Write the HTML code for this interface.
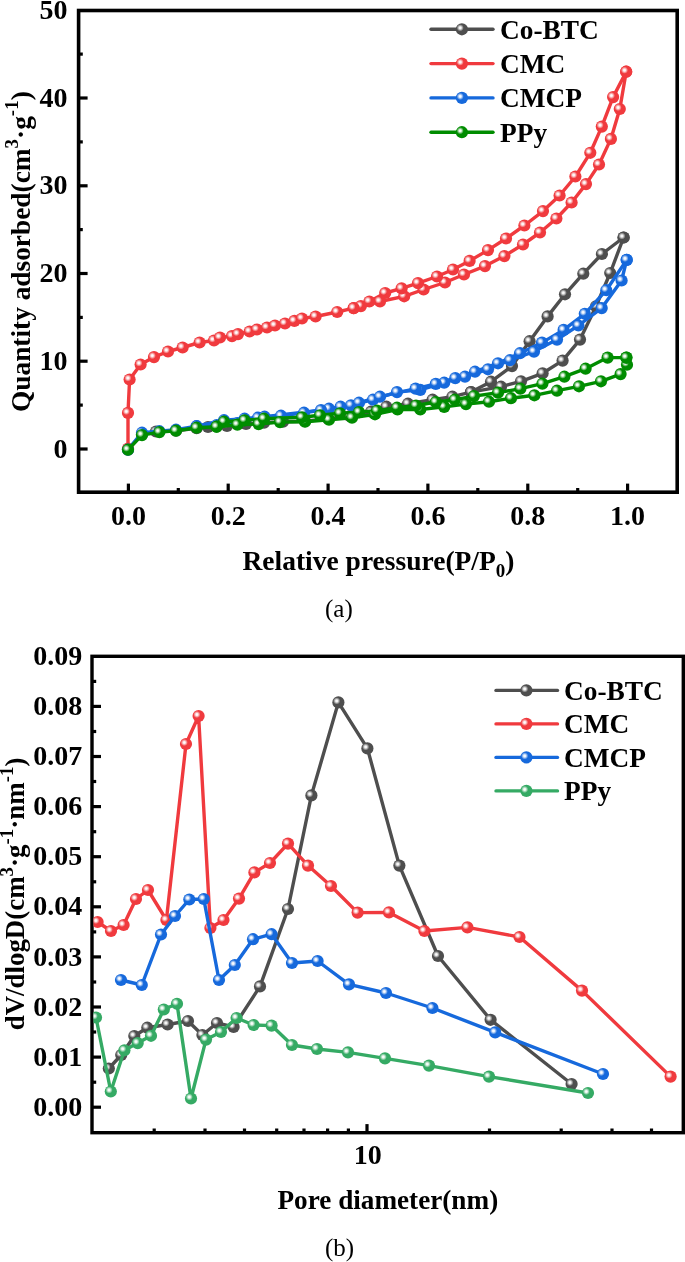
<!DOCTYPE html><html><head><meta charset="utf-8"><style>
html,body{margin:0;padding:0;background:#fff;}
svg{display:block;}
text{font-family:"Liberation Serif",serif;}
.b{font-weight:bold;}
</style></head><body>
<svg style="will-change:transform" width="685" height="1262" viewBox="0 0 685 1262">
<defs>
<radialGradient id="hl" cx="0.5" cy="0.5" r="0.5">
<stop offset="0" stop-color="#fff" stop-opacity="1"/>
<stop offset="0.3" stop-color="#fff" stop-opacity="0.92"/>
<stop offset="1" stop-color="#fff" stop-opacity="0"/>
</radialGradient>
<clipPath id="ca"><rect x="80" y="12" width="596" height="479"/></clipPath>
<clipPath id="cb"><rect x="93.5" y="658" width="588" height="473"/></clipPath>
<clipPath id="none"><rect x="0" y="0" width="685" height="1262"/></clipPath>

<g id="mK"><circle r="6.1" fill="#4E4E4E"/><circle cx="-1.7" cy="-1.5" r="3.6" fill="url(#hl)"/></g><g id="mR"><circle r="6.1" fill="#F03A3E"/><circle cx="-1.7" cy="-1.5" r="3.6" fill="url(#hl)"/></g><g id="mB"><circle r="6.1" fill="#1669DC"/><circle cx="-1.7" cy="-1.5" r="3.6" fill="url(#hl)"/></g><g id="mG"><circle r="6.1" fill="#008C00"/><circle cx="-1.7" cy="-1.5" r="3.6" fill="url(#hl)"/></g><g id="mG2"><circle r="6.1" fill="#35AA64"/><circle cx="-1.7" cy="-1.5" r="3.6" fill="url(#hl)"/></g>
</defs><rect width="685" height="1262" fill="#fff"/>
<rect x="78.6" y="10.5" width="598.6" height="481.7" fill="none" stroke="#000" stroke-width="3.6"/><line x1="78.6" y1="449.0" x2="87.6" y2="449.0" stroke="#000" stroke-width="3.2"/><text class="b" x="67.6" y="457.6" font-size="28" text-anchor="end">0</text><line x1="78.6" y1="361.2" x2="87.6" y2="361.2" stroke="#000" stroke-width="3.2"/><text class="b" x="67.6" y="369.9" font-size="28" text-anchor="end">10</text><line x1="78.6" y1="273.5" x2="87.6" y2="273.5" stroke="#000" stroke-width="3.2"/><text class="b" x="67.6" y="282.1" font-size="28" text-anchor="end">20</text><line x1="78.6" y1="185.8" x2="87.6" y2="185.8" stroke="#000" stroke-width="3.2"/><text class="b" x="67.6" y="194.3" font-size="28" text-anchor="end">30</text><line x1="78.6" y1="98.0" x2="87.6" y2="98.0" stroke="#000" stroke-width="3.2"/><text class="b" x="67.6" y="106.6" font-size="28" text-anchor="end">40</text><text class="b" x="67.6" y="18.9" font-size="28" text-anchor="end">50</text><line x1="78.6" y1="405.1" x2="82.8" y2="405.1" stroke="#000" stroke-width="3.2"/><line x1="78.6" y1="317.4" x2="82.8" y2="317.4" stroke="#000" stroke-width="3.2"/><line x1="78.6" y1="229.6" x2="82.8" y2="229.6" stroke="#000" stroke-width="3.2"/><line x1="78.6" y1="141.9" x2="82.8" y2="141.9" stroke="#000" stroke-width="3.2"/><line x1="78.6" y1="54.1" x2="82.8" y2="54.1" stroke="#000" stroke-width="3.2"/><line x1="128.4" y1="492.2" x2="128.4" y2="483.6" stroke="#000" stroke-width="3.2"/><text class="b" x="128.4" y="525.3" font-size="28" text-anchor="middle">0.0</text><line x1="178.3" y1="492.2" x2="178.3" y2="488.0" stroke="#000" stroke-width="3.2"/><line x1="228.2" y1="492.2" x2="228.2" y2="483.6" stroke="#000" stroke-width="3.2"/><text class="b" x="228.2" y="525.3" font-size="28" text-anchor="middle">0.2</text><line x1="278.2" y1="492.2" x2="278.2" y2="488.0" stroke="#000" stroke-width="3.2"/><line x1="328.1" y1="492.2" x2="328.1" y2="483.6" stroke="#000" stroke-width="3.2"/><text class="b" x="328.1" y="525.3" font-size="28" text-anchor="middle">0.4</text><line x1="378.0" y1="492.2" x2="378.0" y2="488.0" stroke="#000" stroke-width="3.2"/><line x1="427.9" y1="492.2" x2="427.9" y2="483.6" stroke="#000" stroke-width="3.2"/><text class="b" x="427.9" y="525.3" font-size="28" text-anchor="middle">0.6</text><line x1="477.8" y1="492.2" x2="477.8" y2="488.0" stroke="#000" stroke-width="3.2"/><line x1="527.8" y1="492.2" x2="527.8" y2="483.6" stroke="#000" stroke-width="3.2"/><text class="b" x="527.8" y="525.3" font-size="28" text-anchor="middle">0.8</text><line x1="577.7" y1="492.2" x2="577.7" y2="488.0" stroke="#000" stroke-width="3.2"/><line x1="627.6" y1="492.2" x2="627.6" y2="483.6" stroke="#000" stroke-width="3.2"/><text class="b" x="627.6" y="525.3" font-size="28" text-anchor="middle">1.0</text>
<g clip-path="url(#ca)"><polyline points="128.0,449.7 142.0,434.2 156.0,431.5 176.0,430.7 196.6,428.2 208.0,427.0 227.0,426.0 246.0,424.0 264.0,422.7 283.0,421.7 305.0,421.2 328.0,418.7 350.0,416.2 371.0,411.7 386.4,406.7 408.0,403.7 432.6,399.7 452.4,396.7 471.0,392.1 501.0,386.7 521.0,381.3 542.6,373.3 562.6,360.6 580.0,339.6 596.0,306.4 610.2,273.0 623.6,237.5" fill="none" stroke="#4E4E4E" stroke-width="3.4" stroke-linejoin="round" stroke-linecap="round"/><polyline points="623.6,237.5 601.9,254.0 583.3,273.7 565.0,294.3 547.6,316.4 529.6,341.2 512.0,366.1 491.0,381.7 471.0,392.1" fill="none" stroke="#4E4E4E" stroke-width="3.4" stroke-linejoin="round" stroke-linecap="round"/><use href="#mK" x="128.0" y="449.7"/><use href="#mK" x="142.0" y="434.2"/><use href="#mK" x="156.0" y="431.5"/><use href="#mK" x="176.0" y="430.7"/><use href="#mK" x="196.6" y="428.2"/><use href="#mK" x="208.0" y="427.0"/><use href="#mK" x="227.0" y="426.0"/><use href="#mK" x="246.0" y="424.0"/><use href="#mK" x="264.0" y="422.7"/><use href="#mK" x="283.0" y="421.7"/><use href="#mK" x="305.0" y="421.2"/><use href="#mK" x="328.0" y="418.7"/><use href="#mK" x="350.0" y="416.2"/><use href="#mK" x="371.0" y="411.7"/><use href="#mK" x="386.4" y="406.7"/><use href="#mK" x="408.0" y="403.7"/><use href="#mK" x="432.6" y="399.7"/><use href="#mK" x="452.4" y="396.7"/><use href="#mK" x="471.0" y="392.1"/><use href="#mK" x="501.0" y="386.7"/><use href="#mK" x="521.0" y="381.3"/><use href="#mK" x="542.6" y="373.3"/><use href="#mK" x="562.6" y="360.6"/><use href="#mK" x="580.0" y="339.6"/><use href="#mK" x="596.0" y="306.4"/><use href="#mK" x="610.2" y="273.0"/><use href="#mK" x="623.6" y="237.5"/><use href="#mK" x="623.6" y="237.5"/><use href="#mK" x="601.9" y="254.0"/><use href="#mK" x="583.3" y="273.7"/><use href="#mK" x="565.0" y="294.3"/><use href="#mK" x="547.6" y="316.4"/><use href="#mK" x="529.6" y="341.2"/><use href="#mK" x="512.0" y="366.1"/><use href="#mK" x="491.0" y="381.7"/><use href="#mK" x="471.0" y="392.1"/></g>
<g clip-path="url(#ca)"><polyline points="128.0,448.5 128.0,412.9 129.6,379.5 140.6,364.5 154.0,357.1 168.0,351.5 182.6,347.5 199.6,342.5 214.0,340.5 220.0,337.5 232.0,336.1 238.0,334.1 249.6,331.5 257.0,329.5 267.0,327.5 275.0,325.5 285.0,323.5 294.4,320.9 302.0,318.5 315.6,316.5 337.2,312.0 353.7,308.1 360.9,306.1 380.0,301.5 404.2,296.3 423.6,289.5 445.0,282.5 464.0,274.5 485.0,266.1 504.4,256.1 523.0,244.5 540.0,232.5 556.4,218.5 571.6,202.5 586.0,184.1 599.0,164.5 610.9,138.9 619.8,109.0 626.2,71.7" fill="none" stroke="#F03A3E" stroke-width="3.4" stroke-linejoin="round" stroke-linecap="round"/><polyline points="626.2,71.7 613.1,97.1 601.8,126.6 590.3,152.8 575.4,176.5 559.6,195.5 543.0,211.1 524.4,225.5 506.0,238.5 488.0,250.1 469.6,260.9 453.0,269.5 437.0,276.5 418.0,283.1 401.6,288.4 385.2,293.0 369.4,301.5 353.7,308.1" fill="none" stroke="#F03A3E" stroke-width="3.4" stroke-linejoin="round" stroke-linecap="round"/><use href="#mR" x="128.0" y="448.5"/><use href="#mR" x="128.0" y="412.9"/><use href="#mR" x="129.6" y="379.5"/><use href="#mR" x="140.6" y="364.5"/><use href="#mR" x="154.0" y="357.1"/><use href="#mR" x="168.0" y="351.5"/><use href="#mR" x="182.6" y="347.5"/><use href="#mR" x="199.6" y="342.5"/><use href="#mR" x="214.0" y="340.5"/><use href="#mR" x="220.0" y="337.5"/><use href="#mR" x="232.0" y="336.1"/><use href="#mR" x="238.0" y="334.1"/><use href="#mR" x="249.6" y="331.5"/><use href="#mR" x="257.0" y="329.5"/><use href="#mR" x="267.0" y="327.5"/><use href="#mR" x="275.0" y="325.5"/><use href="#mR" x="285.0" y="323.5"/><use href="#mR" x="294.4" y="320.9"/><use href="#mR" x="302.0" y="318.5"/><use href="#mR" x="315.6" y="316.5"/><use href="#mR" x="337.2" y="312.0"/><use href="#mR" x="353.7" y="308.1"/><use href="#mR" x="360.9" y="306.1"/><use href="#mR" x="380.0" y="301.5"/><use href="#mR" x="404.2" y="296.3"/><use href="#mR" x="423.6" y="289.5"/><use href="#mR" x="445.0" y="282.5"/><use href="#mR" x="464.0" y="274.5"/><use href="#mR" x="485.0" y="266.1"/><use href="#mR" x="504.4" y="256.1"/><use href="#mR" x="523.0" y="244.5"/><use href="#mR" x="540.0" y="232.5"/><use href="#mR" x="556.4" y="218.5"/><use href="#mR" x="571.6" y="202.5"/><use href="#mR" x="586.0" y="184.1"/><use href="#mR" x="599.0" y="164.5"/><use href="#mR" x="610.9" y="138.9"/><use href="#mR" x="619.8" y="109.0"/><use href="#mR" x="626.2" y="71.7"/><use href="#mR" x="626.2" y="71.7"/><use href="#mR" x="613.1" y="97.1"/><use href="#mR" x="601.8" y="126.6"/><use href="#mR" x="590.3" y="152.8"/><use href="#mR" x="575.4" y="176.5"/><use href="#mR" x="559.6" y="195.5"/><use href="#mR" x="543.0" y="211.1"/><use href="#mR" x="524.4" y="225.5"/><use href="#mR" x="506.0" y="238.5"/><use href="#mR" x="488.0" y="250.1"/><use href="#mR" x="469.6" y="260.9"/><use href="#mR" x="453.0" y="269.5"/><use href="#mR" x="437.0" y="276.5"/><use href="#mR" x="418.0" y="283.1"/><use href="#mR" x="401.6" y="288.4"/><use href="#mR" x="385.2" y="293.0"/><use href="#mR" x="369.4" y="301.5"/><use href="#mR" x="353.7" y="308.1"/></g>
<g clip-path="url(#ca)"><polyline points="128.0,449.7 142.0,432.7 159.4,431.2 176.0,429.7 196.6,426.2 216.6,425.2 237.4,423.2 258.0,417.7 281.0,415.7 304.0,412.7 329.0,408.7 351.0,405.3 373.0,399.7 397.0,392.1 420.3,389.9 444.2,382.7 465.0,376.7 488.0,369.3 510.0,360.2 534.0,351.6 557.0,339.6 578.4,325.5 601.7,308.1 621.6,280.5 626.7,259.9" fill="none" stroke="#1669DC" stroke-width="3.4" stroke-linejoin="round" stroke-linecap="round"/><polyline points="626.7,259.9 606.3,290.2 584.8,313.8 563.6,329.9 542.0,342.6 520.0,353.2 498.0,363.3 475.0,371.7 455.3,378.1 435.8,383.9 415.6,388.6 380.0,396.7 359.0,402.7 340.6,406.7 321.0,410.1 264.6,416.7 244.6,418.7 224.0,420.2 196.6,426.2" fill="none" stroke="#1669DC" stroke-width="3.4" stroke-linejoin="round" stroke-linecap="round"/><use href="#mB" x="128.0" y="449.7"/><use href="#mB" x="142.0" y="432.7"/><use href="#mB" x="159.4" y="431.2"/><use href="#mB" x="176.0" y="429.7"/><use href="#mB" x="196.6" y="426.2"/><use href="#mB" x="216.6" y="425.2"/><use href="#mB" x="237.4" y="423.2"/><use href="#mB" x="258.0" y="417.7"/><use href="#mB" x="281.0" y="415.7"/><use href="#mB" x="304.0" y="412.7"/><use href="#mB" x="329.0" y="408.7"/><use href="#mB" x="351.0" y="405.3"/><use href="#mB" x="373.0" y="399.7"/><use href="#mB" x="397.0" y="392.1"/><use href="#mB" x="420.3" y="389.9"/><use href="#mB" x="444.2" y="382.7"/><use href="#mB" x="465.0" y="376.7"/><use href="#mB" x="488.0" y="369.3"/><use href="#mB" x="510.0" y="360.2"/><use href="#mB" x="534.0" y="351.6"/><use href="#mB" x="557.0" y="339.6"/><use href="#mB" x="578.4" y="325.5"/><use href="#mB" x="601.7" y="308.1"/><use href="#mB" x="621.6" y="280.5"/><use href="#mB" x="626.7" y="259.9"/><use href="#mB" x="626.7" y="259.9"/><use href="#mB" x="606.3" y="290.2"/><use href="#mB" x="584.8" y="313.8"/><use href="#mB" x="563.6" y="329.9"/><use href="#mB" x="542.0" y="342.6"/><use href="#mB" x="520.0" y="353.2"/><use href="#mB" x="498.0" y="363.3"/><use href="#mB" x="475.0" y="371.7"/><use href="#mB" x="455.3" y="378.1"/><use href="#mB" x="435.8" y="383.9"/><use href="#mB" x="415.6" y="388.6"/><use href="#mB" x="380.0" y="396.7"/><use href="#mB" x="359.0" y="402.7"/><use href="#mB" x="340.6" y="406.7"/><use href="#mB" x="321.0" y="410.1"/><use href="#mB" x="264.6" y="416.7"/><use href="#mB" x="244.6" y="418.7"/><use href="#mB" x="224.0" y="420.2"/><use href="#mB" x="196.6" y="426.2"/></g>
<g clip-path="url(#ca)"><polyline points="128.0,449.7 142.0,435.1 159.4,432.1 176.0,430.7 196.6,427.7 216.6,426.7 237.4,424.7 258.6,424.1 280.0,422.1 305.0,421.7 329.0,419.7 352.0,417.7 375.0,414.3 397.5,409.5 420.3,409.5 444.2,406.9 466.0,404.1 489.0,401.7 511.0,398.2 534.4,395.3 557.0,390.7 579.0,386.3 601.0,381.3 620.6,374.1 627.0,364.7 626.4,357.6" fill="none" stroke="#008C00" stroke-width="3.4" stroke-linejoin="round" stroke-linecap="round"/><polyline points="626.4,357.6 607.6,357.6 585.6,368.7 564.4,376.7 542.4,383.7 520.4,388.7 498.0,392.7 474.0,396.1 454.8,399.7 435.8,402.0 416.0,405.5 397.0,407.7 377.0,410.7 359.0,412.1 340.0,413.3 320.0,415.3 302.0,417.3 264.0,418.7 244.6,420.3 224.0,421.7 216.6,426.7" fill="none" stroke="#008C00" stroke-width="3.4" stroke-linejoin="round" stroke-linecap="round"/><use href="#mG" x="128.0" y="449.7"/><use href="#mG" x="142.0" y="435.1"/><use href="#mG" x="159.4" y="432.1"/><use href="#mG" x="176.0" y="430.7"/><use href="#mG" x="196.6" y="427.7"/><use href="#mG" x="216.6" y="426.7"/><use href="#mG" x="237.4" y="424.7"/><use href="#mG" x="258.6" y="424.1"/><use href="#mG" x="280.0" y="422.1"/><use href="#mG" x="305.0" y="421.7"/><use href="#mG" x="329.0" y="419.7"/><use href="#mG" x="352.0" y="417.7"/><use href="#mG" x="375.0" y="414.3"/><use href="#mG" x="397.5" y="409.5"/><use href="#mG" x="420.3" y="409.5"/><use href="#mG" x="444.2" y="406.9"/><use href="#mG" x="466.0" y="404.1"/><use href="#mG" x="489.0" y="401.7"/><use href="#mG" x="511.0" y="398.2"/><use href="#mG" x="534.4" y="395.3"/><use href="#mG" x="557.0" y="390.7"/><use href="#mG" x="579.0" y="386.3"/><use href="#mG" x="601.0" y="381.3"/><use href="#mG" x="620.6" y="374.1"/><use href="#mG" x="627.0" y="364.7"/><use href="#mG" x="626.4" y="357.6"/><use href="#mG" x="626.4" y="357.6"/><use href="#mG" x="607.6" y="357.6"/><use href="#mG" x="585.6" y="368.7"/><use href="#mG" x="564.4" y="376.7"/><use href="#mG" x="542.4" y="383.7"/><use href="#mG" x="520.4" y="388.7"/><use href="#mG" x="498.0" y="392.7"/><use href="#mG" x="474.0" y="396.1"/><use href="#mG" x="454.8" y="399.7"/><use href="#mG" x="435.8" y="402.0"/><use href="#mG" x="416.0" y="405.5"/><use href="#mG" x="397.0" y="407.7"/><use href="#mG" x="377.0" y="410.7"/><use href="#mG" x="359.0" y="412.1"/><use href="#mG" x="340.0" y="413.3"/><use href="#mG" x="320.0" y="415.3"/><use href="#mG" x="302.0" y="417.3"/><use href="#mG" x="264.0" y="418.7"/><use href="#mG" x="244.6" y="420.3"/><use href="#mG" x="224.0" y="421.7"/><use href="#mG" x="216.6" y="426.7"/></g>
<line x1="431" y1="29.3" x2="493" y2="29.3" stroke="#4E4E4E" stroke-width="3.4" stroke-linecap="round"/><use href="#mK" x="461.9" y="29.3"/><text class="b" x="500" y="38.7" font-size="27.35">Co-BTC</text><line x1="431" y1="63.6" x2="493" y2="63.6" stroke="#F03A3E" stroke-width="3.4" stroke-linecap="round"/><use href="#mR" x="461.9" y="63.6"/><text class="b" x="500" y="73.0" font-size="27.35">CMC</text><line x1="431" y1="97.9" x2="493" y2="97.9" stroke="#1669DC" stroke-width="3.4" stroke-linecap="round"/><use href="#mB" x="461.9" y="97.9"/><text class="b" x="500" y="107.3" font-size="27.35">CMCP</text><line x1="431" y1="132.2" x2="493" y2="132.2" stroke="#008C00" stroke-width="3.4" stroke-linecap="round"/><use href="#mG" x="461.9" y="132.2"/><text class="b" x="500" y="141.6" font-size="27.35">PPy</text>
<text class="b" x="242.5" y="570" font-size="27.5">Relative pressure(P/P<tspan font-size="19" dy="7">0</tspan><tspan dy="-7">)</tspan></text>
<text x="325" y="617" font-size="25">(a)</text>
<text class="b" transform="translate(29.5,412) rotate(-90)" font-size="27.35">Quantity adsorbed(cm<tspan font-size="19" dy="-11.2">3</tspan><tspan dy="11.2">·g</tspan><tspan font-size="19" dy="-11.2">-1</tspan><tspan dy="11.2">)</tspan></text>
<rect x="92.0" y="656.3" width="591.3" height="476.4" fill="none" stroke="#000" stroke-width="3.4"/><line x1="92.0" y1="1107.2" x2="101.0" y2="1107.2" stroke="#000" stroke-width="3.2"/><text class="b" x="82.3" y="1115.8" font-size="28" text-anchor="end">0.00</text><line x1="92.0" y1="1057.1" x2="101.0" y2="1057.1" stroke="#000" stroke-width="3.2"/><text class="b" x="82.3" y="1065.7" font-size="28" text-anchor="end">0.01</text><line x1="92.0" y1="1007.0" x2="101.0" y2="1007.0" stroke="#000" stroke-width="3.2"/><text class="b" x="82.3" y="1015.6" font-size="28" text-anchor="end">0.02</text><line x1="92.0" y1="956.9" x2="101.0" y2="956.9" stroke="#000" stroke-width="3.2"/><text class="b" x="82.3" y="965.5" font-size="28" text-anchor="end">0.03</text><line x1="92.0" y1="906.8" x2="101.0" y2="906.8" stroke="#000" stroke-width="3.2"/><text class="b" x="82.3" y="915.4" font-size="28" text-anchor="end">0.04</text><line x1="92.0" y1="856.7" x2="101.0" y2="856.7" stroke="#000" stroke-width="3.2"/><text class="b" x="82.3" y="865.3" font-size="28" text-anchor="end">0.05</text><line x1="92.0" y1="806.6" x2="101.0" y2="806.6" stroke="#000" stroke-width="3.2"/><text class="b" x="82.3" y="815.2" font-size="28" text-anchor="end">0.06</text><line x1="92.0" y1="756.5" x2="101.0" y2="756.5" stroke="#000" stroke-width="3.2"/><text class="b" x="82.3" y="765.1" font-size="28" text-anchor="end">0.07</text><line x1="92.0" y1="706.4" x2="101.0" y2="706.4" stroke="#000" stroke-width="3.2"/><text class="b" x="82.3" y="715.0" font-size="28" text-anchor="end">0.08</text><text class="b" x="82.3" y="664.9" font-size="28" text-anchor="end">0.09</text><line x1="92.0" y1="1082.2" x2="96.2" y2="1082.2" stroke="#000" stroke-width="3.2"/><line x1="92.0" y1="1032.0" x2="96.2" y2="1032.0" stroke="#000" stroke-width="3.2"/><line x1="92.0" y1="982.0" x2="96.2" y2="982.0" stroke="#000" stroke-width="3.2"/><line x1="92.0" y1="931.9" x2="96.2" y2="931.9" stroke="#000" stroke-width="3.2"/><line x1="92.0" y1="881.8" x2="96.2" y2="881.8" stroke="#000" stroke-width="3.2"/><line x1="92.0" y1="831.7" x2="96.2" y2="831.7" stroke="#000" stroke-width="3.2"/><line x1="92.0" y1="781.5" x2="96.2" y2="781.5" stroke="#000" stroke-width="3.2"/><line x1="92.0" y1="731.5" x2="96.2" y2="731.5" stroke="#000" stroke-width="3.2"/><line x1="92.0" y1="681.4" x2="96.2" y2="681.4" stroke="#000" stroke-width="3.2"/><line x1="154.2" y1="1132.7" x2="154.2" y2="1128.5" stroke="#000" stroke-width="3.2"/><line x1="205.0" y1="1132.7" x2="205.0" y2="1128.5" stroke="#000" stroke-width="3.2"/><line x1="244.5" y1="1132.7" x2="244.5" y2="1128.5" stroke="#000" stroke-width="3.2"/><line x1="276.7" y1="1132.7" x2="276.7" y2="1128.5" stroke="#000" stroke-width="3.2"/><line x1="304.0" y1="1132.7" x2="304.0" y2="1128.5" stroke="#000" stroke-width="3.2"/><line x1="327.6" y1="1132.7" x2="327.6" y2="1128.5" stroke="#000" stroke-width="3.2"/><line x1="348.4" y1="1132.7" x2="348.4" y2="1128.5" stroke="#000" stroke-width="3.2"/><line x1="489.5" y1="1132.7" x2="489.5" y2="1128.5" stroke="#000" stroke-width="3.2"/><line x1="561.2" y1="1132.7" x2="561.2" y2="1128.5" stroke="#000" stroke-width="3.2"/><line x1="612.0" y1="1132.7" x2="612.0" y2="1128.5" stroke="#000" stroke-width="3.2"/><line x1="651.5" y1="1132.7" x2="651.5" y2="1128.5" stroke="#000" stroke-width="3.2"/><line x1="367.0" y1="1132.7" x2="367.0" y2="1124.1" stroke="#000" stroke-width="3.2"/><text class="b" x="367.7" y="1164.2" font-size="28" text-anchor="middle">10</text>
<g clip-path="url(#cb)"><polyline points="108.8,1068.5 121.2,1055.0 134.3,1036.0 147.3,1027.7 167.6,1024.5 188.0,1021.0 202.4,1035.0 217.0,1023.0 233.6,1027.0 260.0,986.4 288.0,909.0 311.4,795.4 338.4,702.4 367.4,748.4 399.4,865.6 438.0,956.0 490.6,1019.8 571.6,1084.0" fill="none" stroke="#4E4E4E" stroke-width="3.4" stroke-linejoin="round" stroke-linecap="round"/><use href="#mK" x="108.8" y="1068.5"/><use href="#mK" x="121.2" y="1055.0"/><use href="#mK" x="134.3" y="1036.0"/><use href="#mK" x="147.3" y="1027.7"/><use href="#mK" x="167.6" y="1024.5"/><use href="#mK" x="188.0" y="1021.0"/><use href="#mK" x="202.4" y="1035.0"/><use href="#mK" x="217.0" y="1023.0"/><use href="#mK" x="233.6" y="1027.0"/><use href="#mK" x="260.0" y="986.4"/><use href="#mK" x="288.0" y="909.0"/><use href="#mK" x="311.4" y="795.4"/><use href="#mK" x="338.4" y="702.4"/><use href="#mK" x="367.4" y="748.4"/><use href="#mK" x="399.4" y="865.6"/><use href="#mK" x="438.0" y="956.0"/><use href="#mK" x="490.6" y="1019.8"/><use href="#mK" x="571.6" y="1084.0"/></g>
<g clip-path="url(#cb)"><polyline points="97.6,922.0 111.0,931.0 123.6,925.0 136.0,899.0 148.0,890.0 166.4,920.0 186.0,744.0 198.6,716.0 210.4,928.0 223.5,920.0 239.0,898.6 254.4,872.4 270.0,863.0 288.0,843.6 308.0,865.6 331.0,886.0 357.6,912.6 389.0,912.4 424.4,931.0 467.4,927.4 519.5,937.0 582.0,990.6 670.6,1076.6" fill="none" stroke="#F03A3E" stroke-width="3.4" stroke-linejoin="round" stroke-linecap="round"/><use href="#mR" x="97.6" y="922.0"/><use href="#mR" x="111.0" y="931.0"/><use href="#mR" x="123.6" y="925.0"/><use href="#mR" x="136.0" y="899.0"/><use href="#mR" x="148.0" y="890.0"/><use href="#mR" x="166.4" y="920.0"/><use href="#mR" x="186.0" y="744.0"/><use href="#mR" x="198.6" y="716.0"/><use href="#mR" x="210.4" y="928.0"/><use href="#mR" x="223.5" y="920.0"/><use href="#mR" x="239.0" y="898.6"/><use href="#mR" x="254.4" y="872.4"/><use href="#mR" x="270.0" y="863.0"/><use href="#mR" x="288.0" y="843.6"/><use href="#mR" x="308.0" y="865.6"/><use href="#mR" x="331.0" y="886.0"/><use href="#mR" x="357.6" y="912.6"/><use href="#mR" x="389.0" y="912.4"/><use href="#mR" x="424.4" y="931.0"/><use href="#mR" x="467.4" y="927.4"/><use href="#mR" x="519.5" y="937.0"/><use href="#mR" x="582.0" y="990.6"/><use href="#mR" x="670.6" y="1076.6"/></g>
<g clip-path="url(#cb)"><polyline points="121.0,980.0 141.8,985.0 161.0,934.5 175.0,916.0 189.3,899.5 203.8,899.0 219.0,980.0 234.8,965.0 253.0,939.2 271.6,934.2 292.0,963.0 317.6,961.0 349.0,984.4 386.0,993.0 432.4,1008.0 495.2,1032.4 603.0,1074.0" fill="none" stroke="#1669DC" stroke-width="3.4" stroke-linejoin="round" stroke-linecap="round"/><use href="#mB" x="121.0" y="980.0"/><use href="#mB" x="141.8" y="985.0"/><use href="#mB" x="161.0" y="934.5"/><use href="#mB" x="175.0" y="916.0"/><use href="#mB" x="189.3" y="899.5"/><use href="#mB" x="203.8" y="899.0"/><use href="#mB" x="219.0" y="980.0"/><use href="#mB" x="234.8" y="965.0"/><use href="#mB" x="253.0" y="939.2"/><use href="#mB" x="271.6" y="934.2"/><use href="#mB" x="292.0" y="963.0"/><use href="#mB" x="317.6" y="961.0"/><use href="#mB" x="349.0" y="984.4"/><use href="#mB" x="386.0" y="993.0"/><use href="#mB" x="432.4" y="1008.0"/><use href="#mB" x="495.2" y="1032.4"/><use href="#mB" x="603.0" y="1074.0"/></g>
<g clip-path="url(#cb)"><polyline points="96.0,1017.5 110.8,1091.5 124.4,1050.3 137.7,1043.1 151.0,1035.8 163.8,1009.5 177.0,1003.8 191.0,1098.5 206.0,1039.6 221.0,1032.0 236.6,1018.0 253.6,1025.0 271.6,1025.6 292.0,1045.0 317.0,1049.0 348.0,1052.4 385.0,1058.4 429.0,1065.6 489.0,1076.6 588.0,1093.0" fill="none" stroke="#35AA64" stroke-width="3.4" stroke-linejoin="round" stroke-linecap="round"/><use href="#mG2" x="96.0" y="1017.5"/><use href="#mG2" x="110.8" y="1091.5"/><use href="#mG2" x="124.4" y="1050.3"/><use href="#mG2" x="137.7" y="1043.1"/><use href="#mG2" x="151.0" y="1035.8"/><use href="#mG2" x="163.8" y="1009.5"/><use href="#mG2" x="177.0" y="1003.8"/><use href="#mG2" x="191.0" y="1098.5"/><use href="#mG2" x="206.0" y="1039.6"/><use href="#mG2" x="221.0" y="1032.0"/><use href="#mG2" x="236.6" y="1018.0"/><use href="#mG2" x="253.6" y="1025.0"/><use href="#mG2" x="271.6" y="1025.6"/><use href="#mG2" x="292.0" y="1045.0"/><use href="#mG2" x="317.0" y="1049.0"/><use href="#mG2" x="348.0" y="1052.4"/><use href="#mG2" x="385.0" y="1058.4"/><use href="#mG2" x="429.0" y="1065.6"/><use href="#mG2" x="489.0" y="1076.6"/><use href="#mG2" x="588.0" y="1093.0"/></g>
<line x1="496" y1="690.4" x2="557.5" y2="690.4" stroke="#4E4E4E" stroke-width="3.4" stroke-linecap="round"/><use href="#mK" x="526.4" y="690.4"/><text class="b" x="564" y="699.8" font-size="27.35">Co-BTC</text><line x1="496" y1="723.9" x2="557.5" y2="723.9" stroke="#F03A3E" stroke-width="3.4" stroke-linecap="round"/><use href="#mR" x="526.4" y="723.9"/><text class="b" x="564" y="733.3" font-size="27.35">CMC</text><line x1="496" y1="757.4" x2="557.5" y2="757.4" stroke="#1669DC" stroke-width="3.4" stroke-linecap="round"/><use href="#mB" x="526.4" y="757.4"/><text class="b" x="564" y="766.8" font-size="27.35">CMCP</text><line x1="496" y1="790.9" x2="557.5" y2="790.9" stroke="#35AA64" stroke-width="3.4" stroke-linecap="round"/><use href="#mG2" x="526.4" y="790.9"/><text class="b" x="564" y="800.3" font-size="27.35">PPy</text>
<text class="b" x="277.5" y="1209" font-size="27.2">Pore diameter(nm)</text>
<text x="325" y="1256" font-size="25">(b)</text>
<text class="b" transform="translate(23.8,1030.3) rotate(-90)" font-size="26.9">dV/dlogD(cm<tspan font-size="19" dy="-11.2">3</tspan><tspan dy="11.2">·g</tspan><tspan font-size="19" dy="-11.2">-1</tspan><tspan dy="11.2">·nm</tspan><tspan font-size="19" dy="-11.2">-1</tspan><tspan dy="11.2">)</tspan></text>
</svg></body></html>
